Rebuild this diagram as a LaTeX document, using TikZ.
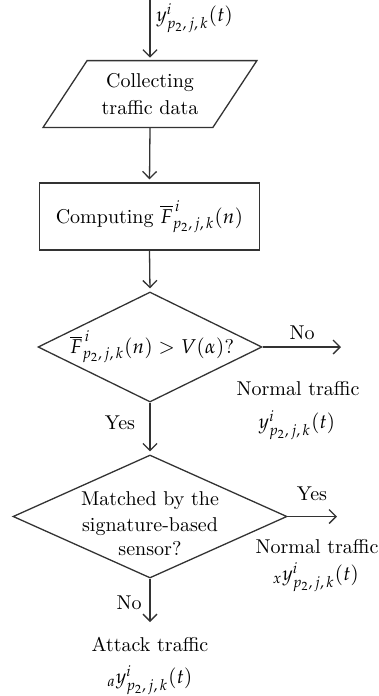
\documentclass[tikz,border=0pt]{standalone}
\usepackage{mathpazo}
\usetikzlibrary{arrows.meta,shapes.geometric,calc}
\newcommand{\ysig}{y^{i}_{p_2,\,j,\,k}(t)}
\newcommand{\Fbar}{\overline{F}^{\,i}_{p_2,\,j,\,k}(n)}

\begin{document}
\begin{tikzpicture}[x=0.5pt,y=-0.5pt,
  line/.style={draw=black!80, line width=0.65pt},
  flow/.style={line, -{Straight Barb[length=3.5pt,width=7pt]}},
  lbl/.style={inner sep=0pt},
  ]
\useasboundingbox (0,0) rectangle (379,696);

% incoming signal
\coordinate (src) at (150,0);
\node[lbl, anchor=west] (yin) at (156,18) {$\ysig$};

% data collection (parallelogram drawn around the node)
\node[inner sep=0pt, minimum width=84.5pt, minimum height=33pt, align=center]
  (collect) at (150,94) {Collecting\\[1.5pt]traffic data};
\draw[line] ($(collect.north west)+(22,0)$) -- ($(collect.north east)+(22,0)$)
  -- ($(collect.south east)+(-22,0)$) -- ($(collect.south west)+(-22,0)$) -- cycle;

% statistic computation
\node[line, rectangle, inner sep=0pt, minimum width=110pt, minimum height=33.5pt]
  (comp) at (149.5,216.5) {Computing $\Fbar$};

% first decision
\node[line, diamond, inner sep=0pt, minimum width=112pt, minimum height=55pt]
  (d1) at (150,347) {};
\node[lbl] (d1txt) at (152,347) {$\Fbar > V(\alpha)$?};

% second decision
\node[line, diamond, inner sep=0pt, minimum width=137pt, minimum height=61.5pt]
  (d2) at (150,516.5) {};
\node[lbl, align=center] (d2txt) at (150,524) {Matched by the\\[1pt]signature-based\\sensor?};

% free ends of the outgoing arrows
\coordinate (noend) at (341,347);
\coordinate (yesend) at (337,516.5);
\coordinate (attend) at (150,622);

% connectors
\draw[flow, shorten >=1.5pt] (src) -- (collect.north);
\draw[flow, shorten >=1.5pt] (collect.south) -- (comp.north);
\draw[flow, shorten >=1.5pt] (comp.south) -- (d1.north);
\draw[flow] (d1.east) -- (noend);
\draw[flow, shorten >=1.5pt] (d1.south) -- (d2.north);
\draw[flow] (d2.east) -- (yesend);
\draw[flow] (d2.south) -- (attend);

% branch labels
\node[lbl] (no1) at (302,333) {No};
\node[lbl] (yes1) at (120,423) {Yes};
\node[lbl] (yes2) at (312,494) {Yes};
\node[lbl] (no2) at (129,603) {No};

% outcomes
\node[lbl] (norm1) at (298,389) {Normal traffic};
\node[lbl] (norm1y) at (297,425) {$\ysig$};
\node[lbl] (norm2) at (317,547) {Normal traffic};
\node[lbl] (norm2y) at (316,577) {${}_{x}\ysig$};
\node[lbl] (att) at (150,644) {Attack traffic};
\node[lbl] (atty) at (150,680) {${}_{a}\ysig$};
\end{tikzpicture}
\end{document}
